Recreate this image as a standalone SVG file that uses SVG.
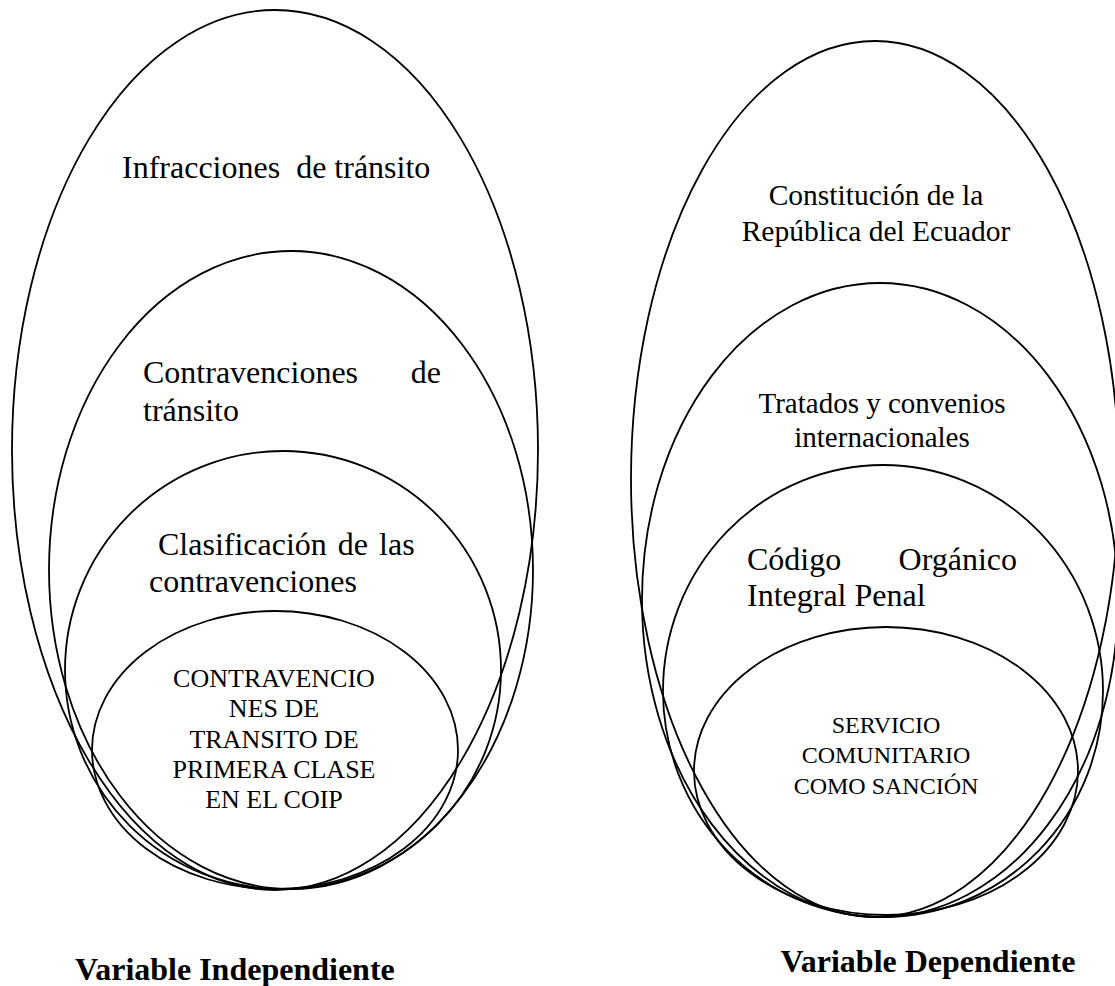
<svg xmlns="http://www.w3.org/2000/svg" width="1115" height="986" viewBox="0 0 1115 986">
<style>
.e{fill:none;stroke:#000;stroke-width:1.8}
.t{font-family:"Liberation Serif","Times New Roman",serif;fill:#000;white-space:pre}
.b{font-weight:bold}
</style>
<rect width="1115" height="986" fill="#fff"/>
<g id="left">
<g id="n-infracciones">
<ellipse class="e" cx="275" cy="450" rx="263" ry="440"/>
<text class="t" x="122" y="178" font-size="32" xml:space="preserve">Infracciones  de tránsito</text>
</g>
<g id="n-contravenciones">
<ellipse class="e" cx="291" cy="570" rx="242" ry="319"/>
<text class="t" x="143" y="383" font-size="32">Contravenciones</text>
<text class="t" x="441" y="383" font-size="32" text-anchor="end">de</text>
<text class="t" x="143" y="421" font-size="32">tránsito</text>
</g>
<g id="n-clasificacion">
<ellipse class="e" cx="283" cy="670" rx="218" ry="219"/>
<text class="t" x="158" y="555" font-size="32" word-spacing="3">Clasificación de las</text>
<text class="t" x="149" y="592" font-size="32">contravenciones</text>
</g>
<g id="n-coip" class="t" font-size="26" text-anchor="middle">
<ellipse class="e" cx="275" cy="750" rx="183" ry="139"/>
<text x="274" y="687">CONTRAVENCIO</text>
<text x="274" y="717">NES DE</text>
<text x="274" y="748">TRANSITO DE</text>
<text x="274" y="778">PRIMERA CLASE</text>
<text x="274" y="808">EN EL COIP</text>
</g>
<text id="lbl-indep" class="t b" x="75" y="980" font-size="32">Variable Independiente</text>
</g>
<g id="right">
<g id="n-constitucion">
<ellipse class="e" cx="875" cy="479" rx="244" ry="438"/>
<text class="t" x="876" y="205" font-size="29.5" text-anchor="middle">Constitución de la</text>
<text class="t" x="876" y="241" font-size="29.5" text-anchor="middle">República del Ecuador</text>
</g>
<g id="n-tratados">
<ellipse class="e" cx="880" cy="600" rx="238" ry="317"/>
<text class="t" x="882" y="413" font-size="29" text-anchor="middle">Tratados y convenios</text>
<text class="t" x="882" y="447" font-size="29" text-anchor="middle">internacionales</text>
</g>
<g id="n-codigo">
<ellipse class="e" cx="883" cy="691" rx="220" ry="226"/>
<text class="t" x="747" y="570" font-size="32">Código</text>
<text class="t" x="1017" y="570" font-size="32" text-anchor="end">Orgánico</text>
<text class="t" x="747" y="606" font-size="32">Integral Penal</text>
</g>
<g id="n-servicio" class="t" font-size="24" text-anchor="middle">
<ellipse class="e" cx="886" cy="771" rx="192" ry="144"/>
<text x="886" y="733">SERVICIO</text>
<text x="886" y="763">COMUNITARIO</text>
<text x="886" y="794">COMO SANCIÓN</text>
</g>
<text id="lbl-dep" class="t b" x="928" y="972" font-size="32" text-anchor="middle">Variable Dependiente</text>
</g>
<g id="connectors"/>
</svg>
